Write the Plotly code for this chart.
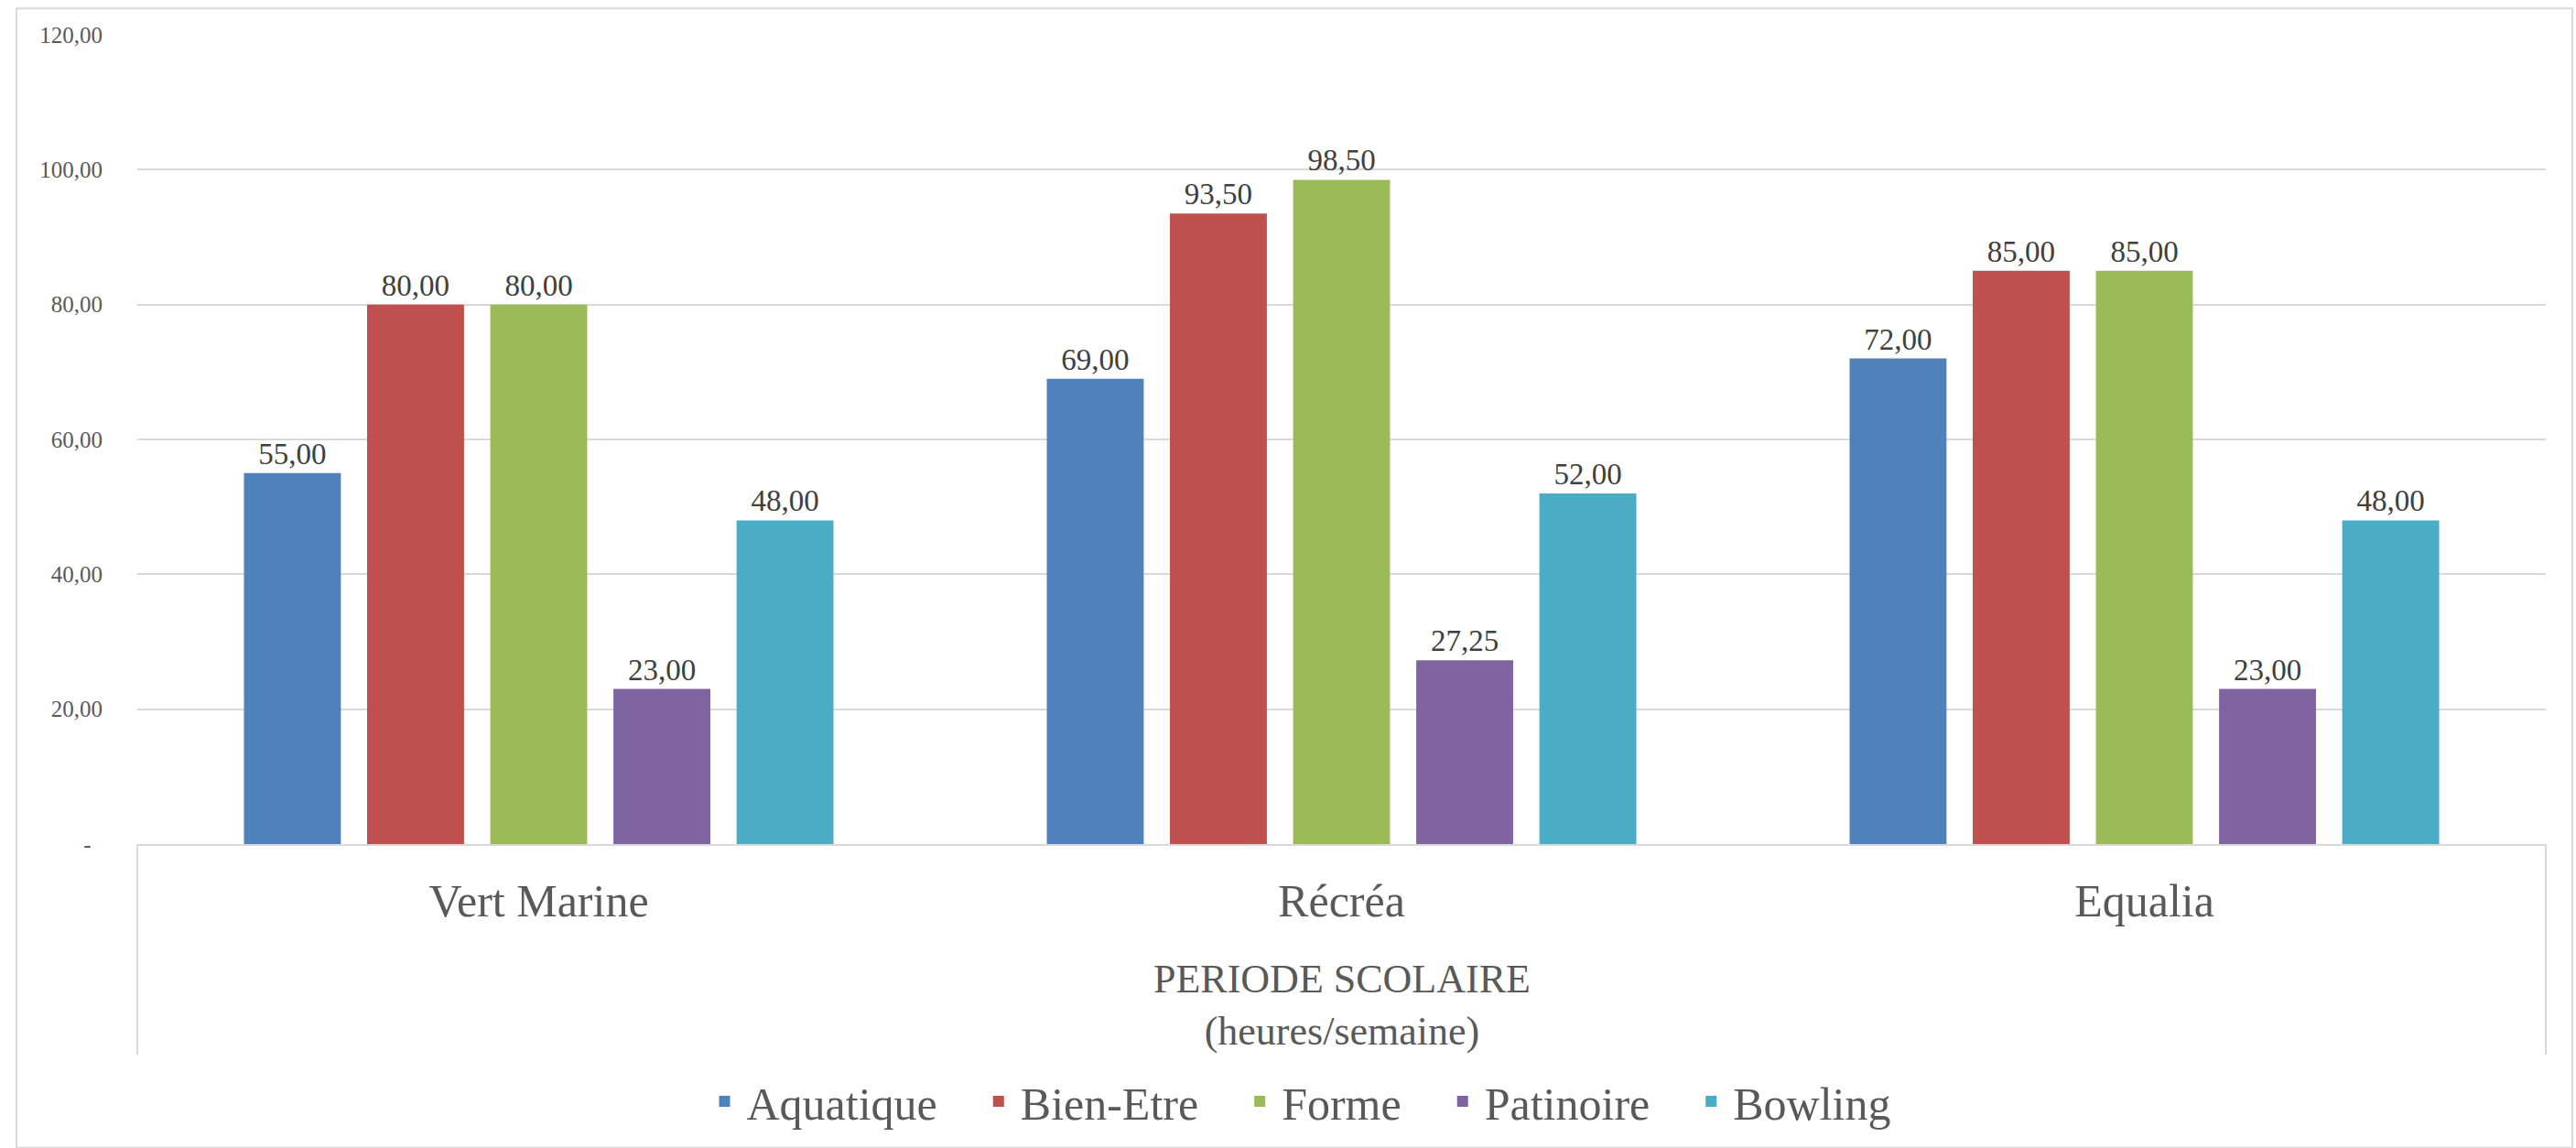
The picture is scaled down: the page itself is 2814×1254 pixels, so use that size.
import plotly.graph_objects as go

categories = ["Vert Marine", "Récréa", "Equalia"]
series_names = ["Aquatique", "Bien-Etre", "Forme", "Patinoire", "Bowling"]
aquatique = [55.00, 69.00, 72.00]
bien_etre = [80.00, 93.50, 85.00]
forme = [80.00, 98.50, 85.00]
patinoire = [23.00, 27.25, 23.00]
bowling = [48.00, 52.00, 48.00]
series_values = [aquatique, bien_etre, forme, patinoire, bowling]
colors = ["#4F81BD", "#C0504D", "#9BBB59", "#8064A2", "#4BACC6"]

y_tickvals = [0, 20, 40, 60, 80, 100, 120]
y_ticktext = ["-\u00a0\u00a0", "20,00", "40,00", "60,00", "80,00", "100,00", "120,00"]
axis_group_title = "PERIODE SCOLAIRE<br>(heures/semaine)"

W, H = 2814, 1254
ml, mr, mt, mb = 150, 33, 38, 326
pw, ph = W - ml - mr, H - mt - mb

FONT = "Liberation Serif"
GRID = "#D9D9D9"
TXT = "#595959"

fig = go.Figure()
for name, vals, col in zip(series_names, series_values, colors):
    fig.add_trace(go.Bar(
        name=name, x=categories, y=vals,
        marker=dict(color=col, line=dict(width=0)),
        texttemplate="%{y:.2f}", textposition="outside",
        textfont=dict(family=FONT, size=33, color="#404040"),
        cliponaxis=False,
    ))

def px2paper_x(px):
    return (px - ml) / pw

def px2paper_y(py):
    return (H - mb - py) / ph

shapes = [
    dict(type="line", xref="paper", yref="paper", x0=0, x1=0, y0=0, y1=px2paper_y(1160),
         line=dict(color=GRID, width=2)),
    dict(type="line", xref="paper", yref="paper", x0=1, x1=1, y0=0, y1=px2paper_y(1160),
         line=dict(color=GRID, width=2)),
    dict(type="rect", xref="paper", yref="paper",
         x0=px2paper_x(18), x1=px2paper_x(2810), y0=px2paper_y(1262), y1=px2paper_y(9),
         line=dict(color=GRID, width=2), fillcolor="rgba(0,0,0,0)", layer="below"),
]

fig.update_layout(
    width=W, height=H,
    margin=dict(l=ml, r=mr, t=mt, b=mb, pad=0),
    paper_bgcolor="white", plot_bgcolor="white",
    separators=", ",
    barmode="group", bargap=0.233, bargroupgap=0.213,
    font=dict(family=FONT, color=TXT),
    showlegend=True,
    legend=dict(orientation="h", x=px2paper_x(1400), xanchor="center",
                y=px2paper_y(1211), yanchor="middle",
                font=dict(family=FONT, size=50, color=TXT),
                itemwidth=38, indentation=38,
                bgcolor="rgba(0,0,0,0)", traceorder="normal"),
    shapes=shapes,
    annotations=[dict(text=axis_group_title, xref="paper", yref="paper",
                      x=0.5, y=px2paper_y(1105), xanchor="center", yanchor="middle",
                      showarrow=False, align="center",
                      font=dict(family=FONT, size=44, color=TXT))],
)
fig.update_xaxes(showline=True, linecolor=GRID, linewidth=2, showgrid=False,
                 ticks="", tickfont=dict(family=FONT, size=50, color=TXT),
                 ticklabelstandoff=17, fixedrange=True)
fig.update_yaxes(range=[0, 120], tickvals=y_tickvals, ticktext=y_ticktext,
                 showgrid=True, gridcolor=GRID, gridwidth=2, zeroline=False,
                 showline=False, ticks="", tickfont=dict(family=FONT, size=25, color=TXT),
                 ticklabelstandoff=37, fixedrange=True)

fig.write_html("out.html")
